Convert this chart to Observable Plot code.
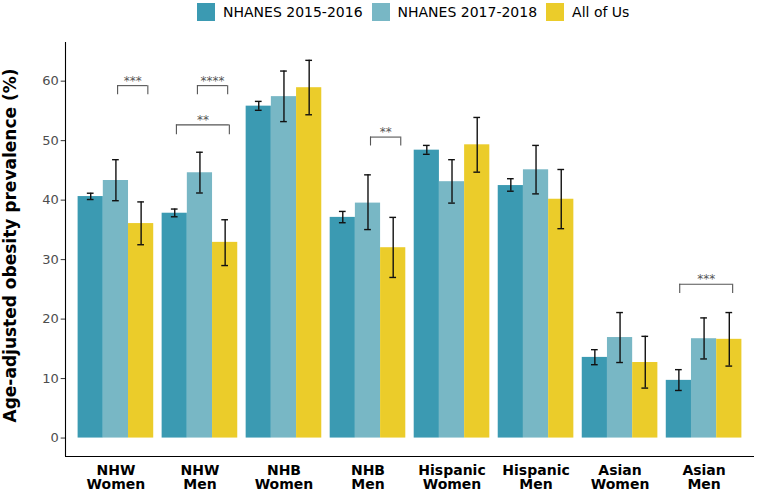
<!DOCTYPE html>
<html>
<head>
<meta charset="utf-8">
<script src="https://cdn.jsdelivr.net/npm/d3@7"></script>
<script src="https://cdn.jsdelivr.net/npm/@observablehq/plot@0.6"></script>
<style>
  html, body { margin: 0; padding: 0; background: #fff; }
  body { width: 758px; height: 491px; overflow: hidden; font-family: "DejaVu Sans", sans-serif; }
  #legend { height: 24px; display: flex; align-items: flex-start; padding-left: 197px; box-sizing: border-box; padding-top: 3px; }
  .item { display: flex; align-items: center; height: 18px; margin-right: 9px; font-size: 14px; color: #000; white-space: nowrap; }
  .sw { width: 18px; height: 18px; margin-right: 8px; }
  #chart svg { display: block; }
</style>
</head>
<body>
<div id="legend"></div>
<div id="chart"></div>
<script>
// ---- data ----
const groups = ["NHW\nWomen", "NHW\nMen", "NHB\nWomen", "NHB\nMen", "Hispanic\nWomen", "Hispanic\nMen", "Asian\nWomen", "Asian\nMen"];
const series = ["NHANES 2015-2016", "NHANES 2017-2018", "All of Us"];
const colors = ["#3B9AB2", "#78B7C5", "#EBCC2A"];

const nh1516    = [40.6, 37.8, 55.8, 37.1, 48.4, 42.45, 13.56, 9.7];
const nh1516Lo  = [40.1, 37.2, 55.1, 36.2, 47.7, 41.5, 12.33, 8.0];
const nh1516Hi  = [41.16, 38.5, 56.6, 38.1, 49.2, 43.6, 14.86, 11.5];

const nh1718    = [43.3, 44.6, 57.4, 39.5, 43.1, 45.1, 16.9, 16.7];
const nh1718Lo  = [39.9, 41.2, 53.2, 35.05, 39.5, 41.05, 12.7, 13.3];
const nh1718Hi  = [46.8, 48.05, 61.7, 44.25, 46.8, 49.2, 21.1, 20.2];

const aou       = [36.06, 32.9, 58.9, 32.0, 49.3, 40.15, 12.7, 16.6];
const aouLo     = [32.5, 29.0, 54.35, 27.0, 44.7, 35.2, 8.4, 12.1];
const aouHi     = [39.7, 36.7, 63.5, 37.1, 53.9, 45.15, 17.1, 21.1];

// significance brackets: group index, left/right offsets (in group units), bracket level, tip end, label
const sigGroup = [0, 1, 1, 3, 7];
const sigLeft  = [0.02, -0.03, -0.28, 0.03, -0.29];
const sigRight = [0.38, 0.33, 0.35, 0.39, 0.34];
const sigY     = [59.25, 59.25, 52.65, 50.6, 25.85];
const sigTip   = [57.72, 57.72, 51.0, 49.1, 24.3];
const sigLabel = ["***", "****", "**", "**", "***"];

const yTicks = [0, 10, 20, 30, 40, 50, 60];
const yTitle = "Age-adjusted obesity prevalence (%)";

// ---- build tables ----
const vals = [nh1516, nh1718, aou], los = [nh1516Lo, nh1718Lo, aouLo], his = [nh1516Hi, nh1718Hi, aouHi];
const bars = [];
groups.forEach((g, i) => series.forEach((s, k) => bars.push({g: i, k, series: s, v: vals[k][i], lo: los[k][i], hi: his[k][i]})));
const sig = sigGroup.map((g, j) => ({g, a: g + sigLeft[j], b: g + sigRight[j], y: sigY[j], tip: sigTip[j], label: sigLabel[j]}));

const dodge = 0.9, bw = dodge / 3, capHalf = 0.04;
const x1 = d => d.g - dodge / 2 + d.k * bw;
const xc = d => x1(d) + bw / 2;
const xDomain = [-0.6, groups.length - 1 + 0.6];
const yDomain = [-3.1, 66.5];

// ---- legend ----
const leg = document.getElementById("legend");
series.forEach((s, k) => {
  const it = document.createElement("div"); it.className = "item";
  const sw = document.createElement("div"); sw.className = "sw"; sw.style.background = colors[k];
  const tx = document.createElement("span"); tx.textContent = s;
  it.appendChild(sw); it.appendChild(tx); leg.appendChild(it);
});

// ---- plot ----
const plot = Plot.plot({
  width: 758,
  height: 467,
  marginTop: 18,
  marginBottom: 35,
  marginLeft: 65,
  marginRight: 4,
  style: {fontFamily: "DejaVu Sans, sans-serif", background: "#fff"},
  x: {type: "linear", domain: xDomain, axis: null},
  y: {domain: yDomain, axis: null},
  color: {domain: series, range: colors},
  marks: [
    Plot.rectY(bars, {x1: x1, x2: d => x1(d) + bw, y1: 0, y2: "v", fill: "series"}),
    // error bars
    Plot.ruleX(bars, {x: xc, y1: "lo", y2: "hi", stroke: "#111", strokeWidth: 1.4}),
    Plot.ruleY(bars, {x1: d => xc(d) - capHalf, x2: d => xc(d) + capHalf, y: "lo", stroke: "#111", strokeWidth: 1.4}),
    Plot.ruleY(bars, {x1: d => xc(d) - capHalf, x2: d => xc(d) + capHalf, y: "hi", stroke: "#111", strokeWidth: 1.4}),
    // significance brackets
    Plot.ruleY(sig, {x1: "a", x2: "b", y: "y", stroke: "#555", strokeWidth: 1.1}),
    Plot.ruleX(sig, {x: "a", y1: "tip", y2: "y", stroke: "#555", strokeWidth: 1.1}),
    Plot.ruleX(sig, {x: "b", y1: "tip", y2: "y", stroke: "#555", strokeWidth: 1.1}),
    Plot.text(sig, {x: d => (d.a + d.b) / 2, y: "y", text: "label", lineAnchor: "bottom", dy: -1, fontSize: 12, fill: "#555"}),
    // axes
    Plot.axisY({ticks: yTicks, tickFormat: d => String(d), tickSize: 4.3, tickPadding: 2.5, fontSize: 13, stroke: "#333", fill: "#4d4d4d", label: null}),
    Plot.axisX({ticks: d3.range(groups.length), tickFormat: i => groups[i], tickSize: 0, tickPadding: 7.7, fontSize: 14, fontWeight: "bold", fill: "#000", lineHeight: 1.05, label: null}),
    Plot.ruleY([yDomain[0]], {stroke: "#000", strokeWidth: 1.1}),
    Plot.ruleX([xDomain[0]], {stroke: "#000", strokeWidth: 1.1}),
    Plot.text([yTitle], {text: d => d, frameAnchor: "left", textAnchor: "middle", rotate: -90, dx: -55, dy: -4, fontSize: 17, fontWeight: "bold", fill: "#000"})
  ]
});
document.getElementById("chart").appendChild(plot);
</script>
</body>
</html>
